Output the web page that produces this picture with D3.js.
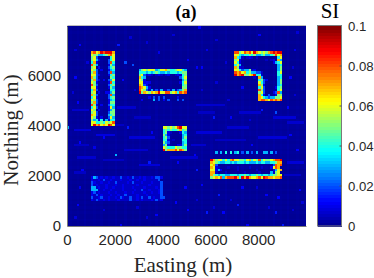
<!DOCTYPE html>
<html><head><meta charset="utf-8">
<script src="https://cdn.jsdelivr.net/npm/d3@7"></script>
<style>html,body{margin:0;padding:0;background:#fff}svg{display:block}</style>
</head><body><svg id="c" width="374" height="278"><defs><filter id="soft" x="0" y="0" width="100%" height="100%"><feGaussianBlur stdDeviation="0.45"/></filter><clipPath id="plotClip"><rect x="67" y="26" width="239" height="200"/></clipPath></defs></svg>
<script>
// values in SI x 100; "," = 0.006; "." = background
const buildingA = {e:1000,n:7000,rows:["7867989997","6553345786","562.....46","5631...246","471....284","853....153","56.1...245","652.1..134","572....283","6621...145","752.....54","5721.1.236","651....184","852....245","661....153","472.....44","56.1..1135","752....283","461....245","652....134","572....155","851.1..244","462....163","65.1...135","562....255","762....345","651.1..263","53414.3144","6644546568","6978676986"]};
const buildingB = {e:3000,n:6300,rows:["35656663466754456643","44434345433434443455","562,1,.,1,.,1..,1,45","743..............246","651...............35","661.1............146","7621..............45","87631.............55","8652,3,2,3,,2,3,2357","95765767966885674878"]};
const buildingC = {e:7000,n:7000,rows:["88568786976565789899","66434454533453345867","743,.,1,.,........46","561..........,.,1.73","641.............1346","463...............34","751,..............35","6642335,1.........35","87867453322,......46","97895567944,......44","........,.73......34","..........4521....35","..........642.....35","..........751.....34","..........462....145","..........852.....46","..........562...1283","..........741.2..155","..........7643233556","..........7887687878"]};
const buildingD = {e:4000,n:4000,rows:["6656568966","4545445745","451,...143","531.....34","452.....35","441.,...44","532.....34","351...1135","6544465544","9577786875"]};
const buildingE = {e:6000,n:2700,rows:["975664647866554674658465567889","765433443434443433343443344577","672.......................2878","761,...,...,....,....,...1687","66131......,.......,......1367","77,...,.......,.....,....3,56","754344334443445434454344345566","567683788897497976678698776778"]};
const buildingF = {e:1000,n:2000,rows:["132,1,1,,1,,2,,1,2,,1,1,,1,221","1,,1,2,,1,,,1,,,1,,1,,1,,,,,2","21,,1,,1,,2,,,,1,2,,,1,,,1,,,2","2,1,,,1,,,1,,1,,,,,1,,,,1,,,,2","33,1,,1,,1,,,1,,,1,,,,1,,,,1,2","333,,1,,1,,,,1,,,,1,,2,,1,,,12","12,1,,,1,,1,,,1,,1,,,,1,,1,,12","1,2,1,,,1,,1,,2,,,,1,,,1,,,,,2","2,,12,,1,,1,21,,2,,1,2,,2,1,,22","1,2,,1,1,,,1,,,,2,,1,1,,,1,2,1"]};
const stripRows = {e:6000,n:3000,rows:["..3.3.4.4.34.2.3.2.3..33.3.2."]};
const arcRows = {e:3100,n:5200,rows:["...1.2.2.2.....1","1....3.2.1.2...2"]};
const patches = [buildingA,buildingB,buildingC,buildingD,buildingE,buildingF,stripRows,arcRows];
// isolated spots: easting, northing, SI
const spots = [[2130,7240,.015],[2430,6560,.02],[2700,6440,.02],[2300,5840,.012],[330,5960,.012],[540,7240,.012],[3890,6920,.01],[3350,5720,.012],[5520,7960,.012],[8070,7640,.012],[5440,6360,.012],[5650,6360,.012],[7320,5560,.012],[4850,5040,.02],[6110,4360,.015],[8700,4560,.02],[8160,4640,.015],[9200,4720,.012],[5020,6640,.012],[40,3960,.03],[2050,2880,.03],[3430,2560,.015],[2510,3920,.015],[3560,3760,.012],[1510,3520,.012],[540,3360,.012],[4600,2560,.012],[460,880,.012],[3770,480,.012],[4520,920,.012],[2220,80,.012],[7110,880,.015],[8700,560,.015],[7530,80,.012],[9040,80,.015],[6320,1280,.015],[5020,640,.012],[5860,560,.015],[6520,560,.012],[8360,1280,.012],[5440,2240,.015],[5690,1640,.012],[9500,7000,.01],[9300,5900,.012],[5800,7000,.01],[400,4900,.012],[1100,3100,.01],[9600,3000,.012],[9300,3600,.012],[7700,3200,.012],[600,2200,.012],[500,1500,.01],[9700,1400,.012],[6800,4300,.012],[7300,1500,.012],[8800,1100,.012],[4900,1500,.012],[5300,2800,.012],[2600,7500,.008],[3300,7300,.008],[4400,7600,.008],[6200,7400,.008],[6600,6500,.008],[9400,6300,.008],[9600,7700,.008],[800,6500,.008],[300,7000,.008],[200,5300,.008],[2800,5400,.008],[5600,5400,.008],[6200,5700,.008],[6700,5000,.008],[9500,5200,.008],[7600,4200,.008],[1300,1000,.008],[300,300,.008],[1500,600,.008],[2900,700,.008],[5400,1000,.008],[6100,700,.008],[6800,1000,.008],[7900,1500,.008],[8400,700,.008],[9400,600,.008],[9800,900,.008],[3300,300,.008]];
// faint east-west streaks: from easting, to easting, northing, SI
const streaks = [[200,900,4600,.007],[2100,2900,4700,.007],[5400,6600,4800,.007],[7200,8100,4500,.007],[8600,9600,4300,.008],[300,1000,3800,.008],[1400,2400,4000,.006],[2600,3700,3500,.008],[5400,6500,3700,.008],[6700,7600,3900,.007],[8000,9200,3500,.008],[300,900,3200,.006],[1200,2000,3600,.009],[2400,3400,3000,.007],[5200,5800,3200,.007],[400,1200,2700,.007],[1500,2400,2600,.006],[3000,3900,2400,.008],[4300,5500,2700,.007],[9200,9900,2500,.008],[9100,9800,2000,.006],[300,800,2100,.006],[9200,9900,4100,.007],[5500,6200,4500,.006],[2800,3500,4300,.006],[6200,7500,3400,.006]];
// per-column and per-row background level, SI x 2000
const colBase = [0,1,0,0,1,0,0,2,0,0,0,1,0,0,2,0,0,1,0,0,2,0,0,0,2,0,0,1,0,0,2,0,0,0,1,0,0,2,0,0,1,0,0,2,0,0,0,1,0,0,2,0,0,1,0,0,2,0,0,0,2,0,0,1,0,0,2,0,0,0,1,0,0,2,0,0,1,0,0,2,0,0,0,1,0,0,2,0,0,1,0,0,2,0,0,0,1,0,0,1];
const rowBase = [0,0,1,0,0,1,0,1,0,1,0,1,1,0,1,0,0,1,0,1,1,1,0,2,1,1,2,1,1,2,1,2,2,1,2,1,2,2,1,2,2,1,2,1,2,1,1,2,1,1,0,1,1,0,1,0,0,1,0,0,1,0,0,1,0,0,1,0,0,0,1,0,0,1,0,0,0,1,0,0];
const baseSI = 0.0006;
const xTicks = [0,2000,4000,6000,8000];
const yTicks = [0,2000,4000,6000];
const barTicks = [0,0.02,0.04,0.06,0.08,0.1];
const jetStops = ["#00008f","#0000ff","#00ffff","#ffff00","#ff0000","#800000"];
const jetDomain = [0,0.0125,0.0375,0.0625,0.0875,0.1];
const cellSize = 100, nCols = 100, nRows = 80;

const svg = d3.select("#c");
const serif = "'Liberation Serif','Times New Roman',serif", sans = "'Liberation Sans',Arial,sans-serif";
const x = d3.scaleLinear().domain([0,10000]).range([67,306]);
const y = d3.scaleLinear().domain([0,8000]).range([226,26]);
const jet = d3.scaleLinear().domain(jetDomain).range(jetStops).clamp(true);
const colIdx = e => Math.floor(e/cellSize);

const grid = d3.range(nRows).map(j => d3.range(nCols).map(i => baseSI + (colBase[i]+rowBase[j])/2000));
streaks.forEach(([a,b,n,v]) => d3.range(colIdx(a),colIdx(b)).forEach(i => { const j=colIdx(n); if(grid[j]) grid[j][i]=Math.max(grid[j][i],v); }));
patches.forEach(p => p.rows.forEach((r,k) => [...r].forEach((ch,c) => {
  if(ch===".") return;
  const j = colIdx(p.n)-1-k, i = colIdx(p.e)+c;
  if(grid[j] && i<nCols) grid[j][i] = ch==="," ? 0.006 : (+ch)*0.01;
})));
spots.forEach(([e,n,v]) => { const j=colIdx(n), i=colIdx(e); if(grid[j]) grid[j][i]=v; });

const cells = grid.flatMap((row,j) => row.map((v,i) => ({e:i*cellSize,n:j*cellSize,v})));
svg.append("g").attr("clip-path","url(#plotClip)").append("g").attr("filter","url(#soft)").attr("shape-rendering","crispEdges").selectAll("rect").data(cells).join("rect")
  .attr("x",d=>x(d.e)).attr("y",d=>y(d.n+cellSize))
  .attr("width",d=>x(d.e+cellSize)-x(d.e)+0.4).attr("height",d=>y(d.n)-y(d.n+cellSize)+0.4)
  .attr("fill",d=>jet(d.v));

const axisColor = "#7a7a7a", textColor = "#262626";
function styleAxis(g){
  g.selectAll(".domain").attr("stroke",axisColor);
  g.selectAll(".tick line").attr("stroke",axisColor);
  g.selectAll("text").attr("fill",textColor).style("font-family",sans).style("font-size","15px");
}
svg.append("g").attr("transform","translate(0,226)")
  .call(d3.axisBottom(x).tickValues(xTicks).tickFormat(d3.format("d")).tickSize(0).tickPadding(8).tickSizeOuter(0)).call(styleAxis);
svg.append("g").attr("transform","translate(67,0)")
  .call(d3.axisLeft(y).tickValues(yTicks).tickFormat(d3.format("d")).tickSize(0).tickPadding(6).tickSizeOuter(0)).call(styleAxis);
svg.append("path").attr("d",`M67.5 25.5H306`).attr("stroke","#bdbdbd").attr("fill","none");

// colour bar
const barY = d3.scaleLinear().domain([0,0.1]).range([226,26]);
const bar = svg.append("g");
bar.append("g").attr("shape-rendering","crispEdges").selectAll("rect").data(d3.range(64)).join("rect")
  .attr("x",318).attr("width",24)
  .attr("y",k=>barY((k+1)/640)).attr("height",k=>barY(k/640)-barY((k+1)/640)+0.5)
  .attr("fill",k=>jet((k+0.5)/640));
bar.append("rect").attr("x",317.5).attr("y",25.5).attr("width",24).attr("height",200.5).attr("fill","none").attr("stroke",axisColor);
bar.selectAll("line").data(barTicks.slice(1,-1)).join("line")
  .attr("x1",339.5).attr("x2",341.5).attr("y1",d=>barY(d)).attr("y2",d=>barY(d)).attr("stroke","#555");
bar.selectAll("text").data(barTicks).join("text")
  .attr("x",348).attr("y",d=>barY(d)).attr("dy","0.36em").attr("fill",textColor)
  .style("font-family",sans).style("font-size","13.2px").text(d=>d);

svg.append("text").attr("x",186).attr("y",18).attr("text-anchor","middle").style("font-family",serif).style("font-weight","bold").style("font-size","18px").text("(a)");
svg.append("text").attr("x",330).attr("y",18).attr("text-anchor","middle").style("font-family",serif).style("font-size","21px").text("SI");
svg.append("text").attr("x",183).attr("y",272).attr("text-anchor","middle").style("font-family",serif).style("font-size","21px").attr("fill",textColor).text("Easting (m)");
svg.append("text").attr("transform","translate(18,130) rotate(-90)").attr("text-anchor","middle").style("font-family",serif).style("font-size","21px").attr("fill",textColor).text("Northing (m)");
</script></body></html>
